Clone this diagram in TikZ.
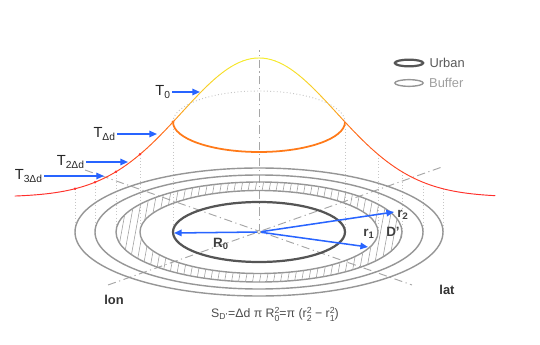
\documentclass[tikz,border=0pt]{standalone}
\usepackage{fontspec}
\setmainfont{Liberation Sans}
\usetikzlibrary{arrows.meta, positioning, shapes.geometric}
\usepackage{xcolor}

\definecolor{peakyellow}{RGB}{245,236,45}
\definecolor{midorange}{RGB}{255,122,25}
\definecolor{tailred}{RGB}{255,45,45}
\definecolor{arrowblue}{RGB}{40,100,255}
\definecolor{ringgray}{RGB}{150,150,150}
\definecolor{urbangray}{RGB}{85,85,85}

\newcommand{\subsup}[2]{\raisebox{-0.55ex}{\fontsize{7.5}{7.5}\selectfont
  \begin{tabular}[b]{@{}l@{}}#2\\[-1pt]#1\end{tabular}}}

\begin{document}
\begin{tikzpicture}[x=0.03cm, y=-0.03cm, font=\fontsize{11}{13}\selectfont,
  ring/.style={draw=ringgray, line width=1.2pt},
  urban/.style={draw=urbangray, line width=1.9pt},
  axis/.style={draw=gray!70, line width=0.8pt, dash pattern=on 7pt off 3pt on 1pt off 3pt},
  drop/.style={draw=gray!45, line width=0.8pt, dotted},
  bluearrow/.style={draw=arrowblue, line width=1.3pt, -{Triangle[length=6.5pt,width=5.5pt]}},
  tlabel/.style={font=\fontsize{12.5}{14}\selectfont, text=black!85, inner sep=1pt},
  dimlabel/.style={font=\fontsize{11.5}{13}\selectfont\bfseries, text=black!75, inner sep=1pt}]

  \useasboundingbox (0,0) rectangle (540,345);
  \coordinate (c) at (259,232);

  % Drop lines from the curve to the rings
  \foreach \r in {86,119,143,164,184} {
    \pgfmathsetmacro{\ytop}{197-139*exp(-((\r/100)^2)/1.1988)}
    \draw[drop] (259-\r,\ytop) -- (259-\r,232);
    \draw[drop] (259+\r,\ytop) -- (259+\r,232);
  }

  % Axes
  \coordinate (top) at (259,50);
  \coordinate (nw) at (85,170);
  \coordinate (se) at (412,285);
  \coordinate (sw) at (108,285);
  \coordinate (ne) at (442,167);
  \draw[axis] (c) -- (top);
  \draw[axis] (nw) -- (se);
  \draw[axis] (sw) -- (ne);

  % Rings
  \draw[ring] (c) ellipse [x radius=184, y radius=64];
  \draw[ring] (c) ellipse [x radius=164, y radius=57];
  \draw[ring] (c) ellipse [x radius=143, y radius=50];
  \draw[ring] (c) ellipse [x radius=119, y radius=41.5];

  % Hatched band D'
  \begin{scope}[even odd rule]
    \clip (c) ellipse [x radius=143, y radius=50]
      (c) ellipse [x radius=119, y radius=41.5];
    \foreach \x in {90,97,...,430} {
      \draw[gray!75, line width=0.5pt] (\x,290) -- (\x+20,180);
    }
  \end{scope}

  \draw[urban] (c) ellipse [x radius=86, y radius=30];

  % Temperature curve
  \foreach \i in {0,...,119} {
    \pgfmathsetmacro{\xa}{15+4*\i}
    \pgfmathsetmacro{\xb}{\xa+4}
    \pgfmathsetmacro{\hgt}{exp(-(((\xa+2-259)/100)^2)/1.1988)}
    \pgfmathsetmacro{\mixa}{sqrt(max(0,(\hgt-0.54)/0.46))*100}
    \pgfmathsetmacro{\mixb}{min(1,\hgt/0.54)*100}
    \colorlet{segcolor}{midorange!\mixb!tailred}
    \colorlet{segcolor}{peakyellow!\mixa!segcolor}
    \draw[segcolor, line width=0.8pt, line cap=round]
      (\xa,{197-139*exp(-(((\xa-259)/100)^2)/1.1988)}) --
      (\xb,{197-139*exp(-(((\xb-259)/100)^2)/1.1988)});
  }

  % Level of the urban edge
  \coordinate (urbanL) at (173,122);
  \draw[drop] (urbanL) arc[start angle=180, end angle=360, x radius=86, y radius=31];
  \draw[midorange, line width=1.5pt] (urbanL) arc[start angle=180, end angle=0, x radius=86, y radius=30];
  \fill[midorange] (urbanL) circle (1.4pt);
  \foreach \r in {119,143,164,184} {
    \fill[tailred] (259-\r,{197-139*exp(-((\r/100)^2)/1.1988)}) circle (1.2pt);
  }

  % T arrows
  \coordinate (t0a) at (172,92);
  \coordinate (t0b) at (200,92);
  \coordinate (t1a) at (117,134);
  \coordinate (t1b) at (157,134);
  \coordinate (t2a) at (86,162);
  \coordinate (t2b) at (128,162);
  \coordinate (t3a) at (44,176);
  \coordinate (t3b) at (104,176);
  \draw[bluearrow] (t0a) -- (t0b);
  \draw[bluearrow] (t1a) -- (t1b);
  \draw[bluearrow] (t2a) -- (t2b);
  \draw[bluearrow] (t3a) -- (t3b);
  \node[tlabel, anchor=east] (t0) at (t0a) {T\textsubscript{0}};
  \node[tlabel, anchor=east] (t1) at (t1a) {T\textsubscript{Δd}};
  \node[tlabel, anchor=east] (t2) at (t2a) {T\textsubscript{2Δd}};
  \node[tlabel, anchor=east] (t3) at (t3a) {T\textsubscript{3Δd}};

  % Radii
  \coordinate (r0tip) at (174,233);
  \coordinate (r1tip) at (368,247);
  \coordinate (r2tip) at (394,212);
  \draw[bluearrow] (c) -- (r0tip);
  \draw[bluearrow] (c) -- (r1tip);
  \draw[bluearrow] (c) -- (r2tip);
  \filldraw[fill=white, draw=gray!70, line width=0.5pt] (c) circle (1.6pt);

  \node[dimlabel] (r0) at (221,244) {R\textsubscript{0}};
  \node[dimlabel] (r1) at (369,234) {r\textsubscript{1}};
  \node[dimlabel] (r2) at (403,215) {r\textsubscript{2}};
  \node[dimlabel] (dp) at (393,232) {D'};

  \node[font=\fontsize{11}{13}\selectfont\bfseries, text=black!80] (lon) at (114,300) {lon};
  \node[font=\fontsize{11}{13}\selectfont\bfseries, text=black!80] (lat) at (447,290) {lat};

  \node[font=\fontsize{10.5}{12}\selectfont, text=black!70] (area) at (275,316)
    {S\textsubscript{D'}=Δd π R\subsup{0}{2}=π (r\subsup{2}{2} − r\subsup{1}{2})};

  % Legend
  \node[ellipse, draw=urbangray, line width=1.9pt, minimum width=0.85cm,
    minimum height=0.2cm, inner sep=0pt] (urbankey) at (409,63) {};
  \node[right=1pt of urbankey, text=black!65] (urbantxt) {Urban};
  \node[ellipse, draw=ringgray, line width=1.2pt, minimum width=0.85cm,
    minimum height=0.2cm, inner sep=0pt] (bufferkey) at (409,83) {};
  \node[right=1pt of bufferkey, text=gray!75] (buffertxt) {Buffer};
\end{tikzpicture}
\end{document}
